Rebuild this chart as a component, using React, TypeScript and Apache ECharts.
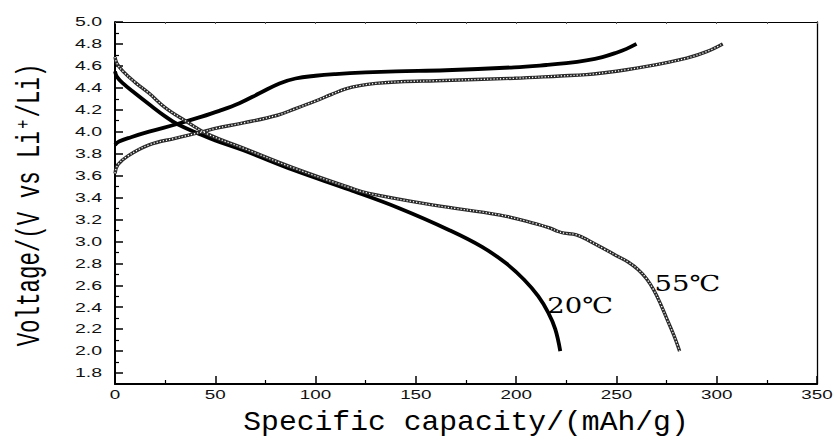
import React, { useEffect, useRef } from "react";
import * as echarts from "echarts";

// ---- data ----
const charge20X = [0, 2, 8, 17, 31, 42, 52, 62, 72, 82, 90, 100, 110, 125, 140, 165, 199, 215, 225, 235, 243, 250, 255, 260];
const charge20Y = [3.88, 3.91, 3.95, 4.0, 4.07, 4.13, 4.19, 4.26, 4.35, 4.44, 4.485, 4.51, 4.525, 4.54, 4.55, 4.56, 4.587, 4.608, 4.625, 4.65, 4.68, 4.72, 4.755, 4.8];

const discharge20X = [0, 1, 4, 10, 17, 25, 31, 42, 50, 64, 89, 117, 142, 167, 183, 195, 204, 211, 216, 219.5, 222];
const discharge20Y = [4.55, 4.5, 4.44, 4.35, 4.25, 4.14, 4.07, 3.98, 3.92, 3.83, 3.65, 3.47, 3.3, 3.1, 2.95, 2.8, 2.65, 2.5, 2.35, 2.2, 2.0];

const charge55X = [0, 1.5, 6.5, 17, 30, 44, 50, 64, 81, 90, 100, 108, 115, 122, 130, 142, 160, 199, 222, 235, 245, 255, 265, 275, 285, 295, 303];
const charge55Y = [3.62, 3.7, 3.78, 3.88, 3.94, 4.0, 4.03, 4.08, 4.15, 4.21, 4.28, 4.34, 4.39, 4.42, 4.44, 4.455, 4.465, 4.487, 4.508, 4.52, 4.54, 4.565, 4.595, 4.63, 4.67, 4.73, 4.8];

const discharge55X = [0, 1, 4, 10, 17, 25, 35, 46, 64, 89, 117, 126, 159, 192, 210, 217, 221, 224, 230, 237, 244, 250, 256, 261, 265, 268.5, 272, 275, 278.5, 281.5];
const discharge55Y = [4.68, 4.62, 4.55, 4.45, 4.35, 4.22, 4.1, 3.98, 3.85, 3.67, 3.49, 3.44, 3.33, 3.24, 3.16, 3.12, 3.09, 3.075, 3.06, 3.0, 2.93, 2.87, 2.81, 2.74, 2.66, 2.56, 2.43, 2.3, 2.15, 2.0];

const xTicks = [0, 50, 100, 150, 200, 250, 300, 350];
const yTicks = [1.8, 2.0, 2.2, 2.4, 2.6, 2.8, 3.0, 3.2, 3.4, 3.6, 3.8, 4.0, 4.2, 4.4, 4.6, 4.8, 5.0];
const yMinorTicks = [1.9, 2.1, 2.3, 2.5, 2.7, 2.9, 3.1, 3.3, 3.5, 3.7, 3.9, 4.1, 4.3, 4.5, 4.7, 4.9];

const xTitle = "Specific capacity/(mAh/g)";
const yTitle = "Voltage/(V vs Li⁺/Li)";
const curveLabels = [
  { text: "20℃", x: 215.5, y: 2.42 },
  { text: "55℃", x: 269, y: 2.62 },
];

const zip = (xs: number[], ys: number[]) => xs.map((x, i) => [x, ys[i]]);

export default function App() {
  const ref = useRef<HTMLDivElement>(null);

  useEffect(() => {
    if (!ref.current) return;
    const chart = echarts.init(ref.current, null, { renderer: "svg" });

    const base = (name: string, data: number[][], lineStyle: any, z: number) => ({
      name,
      type: "line",
      data,
      xAxisIndex: 0,
      yAxisIndex: 0,
      showSymbol: false,
      smooth: 0.4,
      lineStyle,
      z,
    });
    const solid = (name: string, data: number[][]) =>
      base(name, data, { color: "#000", width: 3.8 }, 3);
    const openBase = (name: string, data: number[][]) =>
      base(name, data, { color: "#2a2a2a", width: 3.4 }, 4);
    const openDots = (name: string, data: number[][]) =>
      base(name, data, { color: "#fff", width: 1.3, type: [1.2, 2.0] }, 5);

    const option: any = {
      animation: false,
      backgroundColor: "#fff",
      grid: { left: 115, right: 18, top: 22, bottom: 54, containLabel: false },
      xAxis: [
        {
          type: "value",
          min: 0,
          max: 350,
          interval: 50,
          position: "bottom",
          axisLine: { show: true, onZero: false, lineStyle: { color: "#000", width: 2 } },
          axisTick: { show: true, inside: true, length: 8, lineStyle: { color: "#000", width: 1.5 } },
          minorTick: { show: true, splitNumber: 2, length: 4, lineStyle: { color: "#000", width: 1.2 } },
          axisLabel: { show: false },
          splitLine: { show: false },
          minorSplitLine: { show: false },
        },
        {
          type: "value",
          min: 0,
          max: 350,
          interval: 25,
          position: "top",
          axisLine: { show: true, onZero: false, lineStyle: { color: "#000", width: 1 } },
          axisTick: { show: true, inside: true, length: 2, lineStyle: { color: "#555", width: 1 } },
          axisLabel: { show: false },
          splitLine: { show: false },
        },
      ],
      yAxis: [
        {
          type: "value",
          min: 1.7,
          max: 5.0,
          position: "left",
          axisLine: { show: true, onZero: false, lineStyle: { color: "#000", width: 2 } },
          axisTick: { show: true, inside: true, length: 8, customValues: yTicks, lineStyle: { color: "#000", width: 1.5 } },
          axisLabel: { show: false, customValues: yTicks },
          splitLine: { show: false },
        },
        {
          type: "value",
          min: 1.7,
          max: 5.0,
          position: "left",
          axisLine: { show: false },
          axisTick: { show: true, inside: true, length: 4, customValues: yMinorTicks, lineStyle: { color: "#000", width: 1.2 } },
          axisLabel: { show: false, customValues: yMinorTicks },
          splitLine: { show: false },
        },
        {
          type: "value",
          min: 1.7,
          max: 5.0,
          position: "right",
          axisLine: { show: true, onZero: false, lineStyle: { color: "#000", width: 1.3 } },
          axisTick: { show: false },
          axisLabel: { show: false },
          splitLine: { show: false },
        },
      ],
      series: [
        openBase("55 charge", zip(charge55X, charge55Y)),
        openDots("55 charge dots", zip(charge55X, charge55Y)),
        openBase("55 discharge", zip(discharge55X, discharge55Y)),
        openDots("55 discharge dots", zip(discharge55X, discharge55Y)),
        solid("20 charge", zip(charge20X, charge20Y)),
        solid("20 discharge", zip(discharge20X, discharge20Y)),
      ],
    };

    chart.setOption(option);

    const px = (x: number, y: number) => chart.convertToPixel({ gridIndex: 0 }, [x, y]) as number[];
    const elements: any[] = [];
    const tickFont = '13px "Liberation Sans", Arial, sans-serif';

    yTicks.forEach((v) => {
      const p = px(0, v);
      elements.push({
        type: "text",
        x: p[0] - 13,
        y: p[1],
        scaleX: 1.5,
        style: {
          text: v.toFixed(1),
          font: tickFont,
          fill: "#111",
          align: "right",
          verticalAlign: "middle",
          textAlign: "right",
          textVerticalAlign: "middle",
        },
      });
    });
    xTicks.forEach((v) => {
      const p = px(v, 1.7);
      elements.push({
        type: "text",
        x: p[0],
        y: p[1] + 4,
        scaleX: 1.45,
        style: {
          text: String(v),
          font: tickFont,
          fill: "#111",
          align: "center",
          verticalAlign: "top",
          textAlign: "center",
          textVerticalAlign: "top",
        },
      });
    });

    const xt = px(175, 1.7);
    elements.push({
      type: "text",
      x: xt[0],
      y: xt[1] + 39,
      scaleX: 1.1,
      style: {
        text: xTitle,
        font: '27px "Liberation Mono", monospace',
        fill: "#000",
        align: "center",
        verticalAlign: "middle",
        textAlign: "center",
        textVerticalAlign: "middle",
      },
    });
    const yt = px(0, 3.35);
    elements.push({
      type: "text",
      x: 30,
      y: yt[1] + 2,
      rotation: Math.PI / 2,
      scaleX: 0.68,
      style: {
        text: yTitle,
        font: '33px "Liberation Mono", monospace',
        fill: "#000",
        align: "center",
        verticalAlign: "middle",
        textAlign: "center",
        textVerticalAlign: "middle",
      },
    });

    curveLabels.forEach((l) => {
      const p = px(l.x, l.y);
      elements.push({
        type: "text",
        x: p[0],
        y: p[1],
        scaleX: 1.25,
        style: {
          text: l.text,
          font: '22px "DejaVu Serif", "Liberation Serif", serif',
          fill: "#000",
          align: "left",
          verticalAlign: "middle",
          textAlign: "left",
          textVerticalAlign: "middle",
        },
      });
    });

    chart.setOption({ graphic: elements });

    return () => chart.dispose();
  }, []);

  return (
    <div
      ref={ref}
      style={{ position: "fixed", left: 0, top: 0, width: 835, height: 438, background: "#fff" }}
    />
  );
}
